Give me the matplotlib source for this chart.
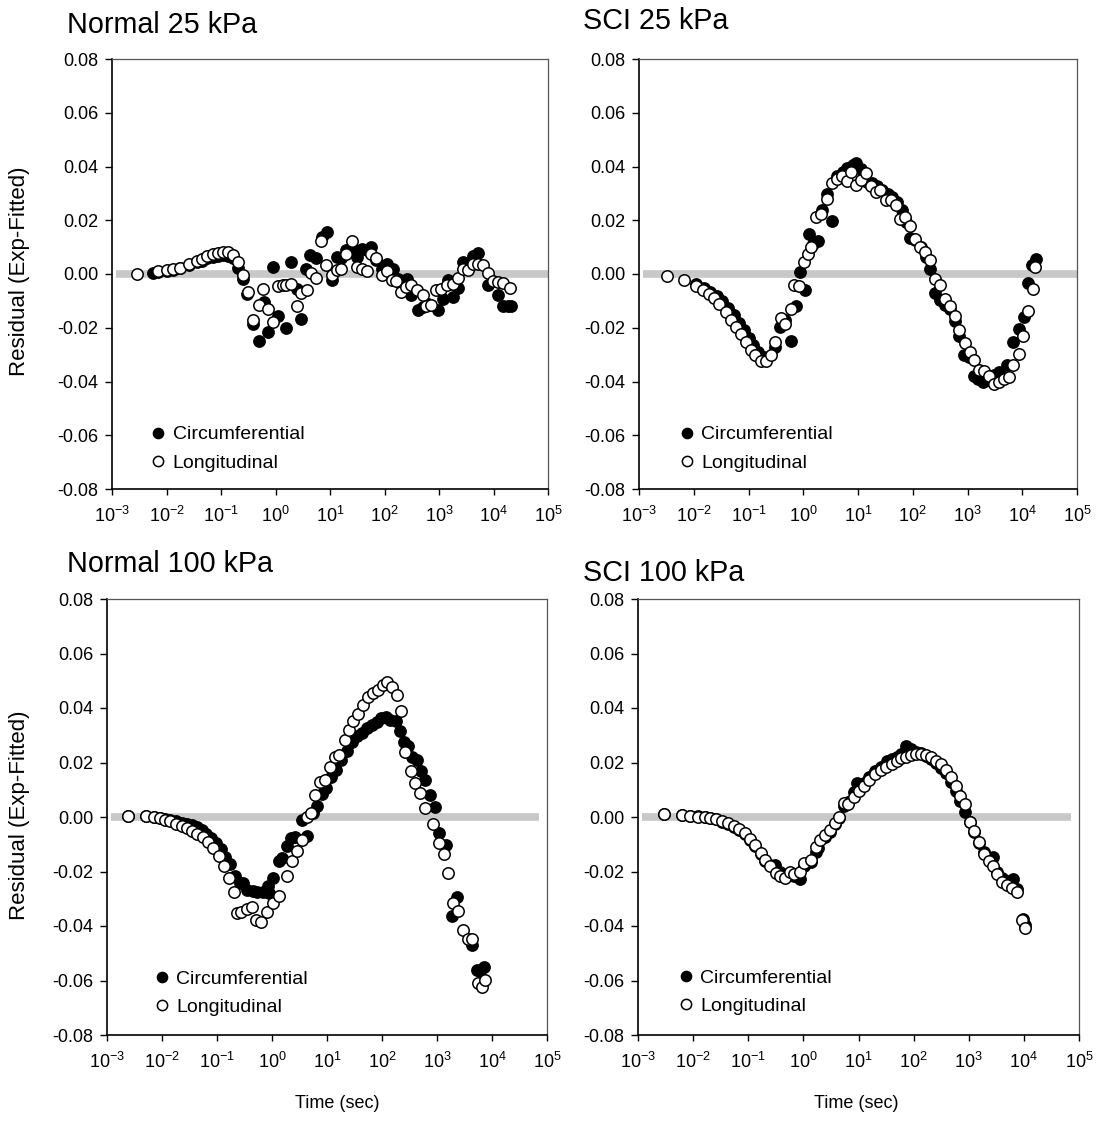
import numpy as np
import matplotlib
matplotlib.use("Agg")
import matplotlib.pyplot as plt
from matplotlib.ticker import NullLocator

plt.rcParams['font.family'] = ['Liberation Sans', 'DejaVu Sans']
plt.rcParams['mathtext.fontset'] = 'custom'
plt.rcParams['mathtext.rm'] = 'Liberation Sans'

# ---------------- data (time given as log10 of seconds) ----------------
n25_circ_logt = [-2.24, -2.16, -2.00, -1.88, -1.75, -1.58, -1.44, -1.35, -1.25, -1.14, -1.05, -0.97, -0.88, -0.78, -0.69,
                 -0.59, -0.52, -0.42, -0.31, -0.22, -0.13, -0.05, 0.05, 0.19, 0.28, 0.39, 0.47, 0.56, 0.64, 0.74,
                 0.85, 0.94, 1.03, 1.12, 1.21, 1.30, 1.40, 1.49, 1.58, 1.67, 1.76, 1.85, 1.95, 2.04, 2.15,
                 2.25, 2.31, 2.41, 2.49, 2.62, 2.71, 2.80, 2.98, 3.07, 3.17, 3.26, 3.35, 3.44, 3.53, 3.62,
                 3.72, 3.90, 4.08, 4.17, 4.27, 4.33]
n25_circ_res = [0.0004, 0.0008, 0.0012, 0.0015, 0.0021, 0.0033, 0.0043, 0.0050, 0.0058, 0.0064, 0.0068, 0.0070, 0.0068, 0.0058, 0.0024,
                -0.0017, -0.0076, -0.0185, -0.0250, -0.0104, -0.0216, 0.0026, -0.0158, -0.0200, 0.0045, -0.0055, -0.0166, 0.0020, 0.0070, 0.0061,
                0.0138, 0.0156, -0.0024, 0.0063, 0.0061, 0.0088, 0.0101, 0.0063, 0.0092, 0.0088, 0.0101, 0.0051, 0.0020, 0.0038, 0.0020,
                -0.0017, -0.0036, -0.0017, -0.0077, -0.0133, -0.0123, -0.0113, -0.0133, -0.0092, -0.0021, -0.0086, -0.0051, 0.0045, 0.0020, 0.0067,
                0.0079, -0.0042, -0.0079, -0.0120, -0.0120, -0.0120]
n25_long_logt = [-2.54, -2.16, -2.00, -1.88, -1.75, -1.58, -1.44, -1.35, -1.25, -1.14, -1.05, -0.97, -0.88, -0.78, -0.69,
                 -0.60, -0.50, -0.42, -0.31, -0.23, -0.13, -0.05, 0.04, 0.13, 0.19, 0.28, 0.39, 0.47, 0.57, 0.66,
                 0.74, 0.83, 0.93, 1.03, 1.12, 1.21, 1.30, 1.40, 1.49, 1.58, 1.67, 1.76, 1.85, 1.95, 2.04,
                 2.13, 2.22, 2.31, 2.40, 2.49, 2.59, 2.70, 2.77, 2.86, 2.95, 3.04, 3.14, 3.25, 3.35, 3.44,
                 3.53, 3.62, 3.72, 3.81, 3.90, 3.99, 4.08, 4.17, 4.30]
n25_long_res = [0.0000, 0.0010, 0.0014, 0.0017, 0.0024, 0.0037, 0.0048, 0.0056, 0.0066, 0.0073, 0.0079, 0.0082, 0.0081, 0.0070, 0.0043,
                -0.0002, -0.0068, -0.0173, -0.0117, -0.0055, -0.0129, -0.0179, -0.0046, -0.0042, -0.0042, -0.0036, -0.0120, -0.0071, -0.0061, 0.0004,
                -0.0015, 0.0123, 0.0032, -0.0005, 0.0014, 0.0017, 0.0076, 0.0123, 0.0026, 0.0020, 0.0011, 0.0076, 0.0060, -0.0005, 0.0010,
                -0.0021, -0.0027, -0.0067, -0.0048, -0.0042, -0.0061, -0.0077, -0.0120, -0.0117, -0.0061, -0.0055, -0.0042, -0.0036, -0.0015, 0.0017,
                0.0014, 0.0038, 0.0038, 0.0035, 0.0004, -0.0026, -0.0030, -0.0034, -0.0051]

s25_circ_logt = [-1.96, -1.82, -1.70, -1.58, -1.49, -1.38, -1.27, -1.17, -1.08, -1.00, -0.91, -0.82, -0.72, -0.51, -0.42,
                 -0.33, -0.23, -0.14, -0.06, 0.04, 0.11, 0.18, 0.27, 0.35, 0.44, 0.53, 0.62, 0.72, 0.80, 0.90,
                 0.97, 1.06, 1.17, 1.26, 1.35, 1.44, 1.54, 1.63, 1.72, 1.80, 1.88, 1.95, 2.05, 2.15, 2.24,
                 2.32, 2.40, 2.49, 2.59, 2.68, 2.77, 2.85, 2.94, 3.03, 3.11, 3.20, 3.29, 3.37, 3.48, 3.57,
                 3.73, 3.84, 3.94, 4.03, 4.10, 4.17, 4.25]
s25_circ_res = [-0.0036, -0.0051, -0.0067, -0.0083, -0.0101, -0.0125, -0.0154, -0.0183, -0.0210, -0.0237, -0.0266, -0.0291, -0.0309, -0.0270, -0.0197,
                -0.0173, -0.0251, -0.0119, 0.0007, -0.0058, 0.0150, 0.0113, 0.0123, 0.0240, 0.0297, 0.0197, 0.0364, 0.0380, 0.0396, 0.0405,
                0.0414, 0.0392, 0.0343, 0.0337, 0.0327, 0.0314, 0.0299, 0.0287, 0.0268, 0.0237, 0.0194, 0.0135, 0.0125, 0.0101, 0.0063,
                0.0020, -0.0071, -0.0096, -0.0117, -0.0129, -0.0175, -0.0232, -0.0303, -0.0307, -0.0378, -0.0390, -0.0402, -0.0394, -0.0374, -0.0363,
                -0.0340, -0.0253, -0.0204, -0.0160, -0.0032, 0.0032, 0.0057]
s25_long_logt = [-2.49, -2.17, -1.96, -1.83, -1.73, -1.63, -1.53, -1.42, -1.32, -1.23, -1.14, -1.05, -0.95, -0.88, -0.78,
                 -0.68, -0.59, -0.51, -0.41, -0.33, -0.23, -0.17, -0.07, 0.01, 0.09, 0.15, 0.24, 0.33, 0.44, 0.52,
                 0.61, 0.70, 0.79, 0.88, 0.97, 1.06, 1.15, 1.23, 1.32, 1.41, 1.51, 1.60, 1.69, 1.77, 1.86,
                 1.95, 2.04, 2.13, 2.22, 2.32, 2.40, 2.49, 2.59, 2.68, 2.77, 2.85, 2.95, 3.04, 3.12, 3.21,
                 3.31, 3.40, 3.48, 3.57, 3.66, 3.75, 3.84, 3.94, 4.02, 4.11, 4.19, 4.24]
s25_long_res = [-0.0009, -0.0024, -0.0045, -0.0058, -0.0073, -0.0088, -0.0113, -0.0142, -0.0170, -0.0197, -0.0225, -0.0253, -0.0284, -0.0303, -0.0324,
                -0.0324, -0.0303, -0.0253, -0.0163, -0.0185, -0.0129, -0.0040, -0.0043, 0.0045, 0.0076, 0.0101, 0.0212, 0.0225, 0.0278, 0.0340,
                0.0355, 0.0365, 0.0347, 0.0378, 0.0333, 0.0351, 0.0376, 0.0327, 0.0306, 0.0314, 0.0277, 0.0274, 0.0256, 0.0206, 0.0212,
                0.0178, 0.0132, 0.0101, 0.0082, 0.0053, -0.0017, -0.0042, -0.0092, -0.0120, -0.0158, -0.0210, -0.0257, -0.0291, -0.0319, -0.0356,
                -0.0361, -0.0378, -0.0409, -0.0400, -0.0390, -0.0384, -0.0337, -0.0297, -0.0229, -0.0138, -0.0057, 0.0026]

n100_circ_logt = [-2.61, -2.30, -2.14, -2.04, -1.94, -1.85, -1.74, -1.64, -1.55, -1.46, -1.37, -1.28, -1.20, -1.11, -1.02,
                  -0.93, -0.85, -0.76, -0.68, -0.59, -0.52, -0.46, -0.35, -0.27, -0.16, -0.08, -0.05, 0.02, 0.12, 0.19,
                  0.27, 0.35, 0.42, 0.54, 0.63, 0.75, 0.81, 0.90, 0.99, 1.08, 1.17, 1.26, 1.36, 1.45, 1.54,
                  1.63, 1.72, 1.81, 1.90, 1.99, 2.07, 2.15, 2.25, 2.32, 2.40, 2.47, 2.55, 2.63, 2.70, 2.78,
                  2.87, 2.96, 3.04, 3.16, 3.28, 3.36, 3.64, 3.73, 3.78, 3.85]
n100_circ_res = [0.0005, 0.0002, 0.0000, -0.0003, -0.0007, -0.0011, -0.0016, -0.0021, -0.0025, -0.0028, -0.0038, -0.0049, -0.0061, -0.0077, -0.0096,
                 -0.0118, -0.0145, -0.0172, -0.0218, -0.0243, -0.0243, -0.0267, -0.0270, -0.0274, -0.0277, -0.0255, -0.0280, -0.0225, -0.0163, -0.0151,
                 -0.0108, -0.0077, -0.0074, -0.0010, -0.0071, 0.0015, 0.0040, 0.0085, 0.0106, 0.0148, 0.0173, 0.0210, 0.0244, 0.0277, 0.0296,
                 0.0310, 0.0326, 0.0339, 0.0347, 0.0363, 0.0367, 0.0357, 0.0351, 0.0314, 0.0277, 0.0261, 0.0222, 0.0210, 0.0167, 0.0136,
                 0.0081, 0.0036, -0.0059, -0.0102, -0.0363, -0.0294, -0.0469, -0.0560, -0.0565, -0.0550]
n100_long_logt = [-2.61, -2.30, -2.14, -2.04, -1.94, -1.85, -1.74, -1.64, -1.55, -1.46, -1.37, -1.26, -1.17, -1.08, -0.97,
                  -0.88, -0.79, -0.70, -0.64, -0.57, -0.46, -0.37, -0.29, -0.20, -0.10, 0.01, 0.12, 0.28, 0.37, 0.46,
                  0.55, 0.63, 0.70, 0.78, 0.87, 0.96, 1.05, 1.14, 1.22, 1.33, 1.40, 1.48, 1.57, 1.66, 1.75,
                  1.84, 1.93, 2.01, 2.09, 2.19, 2.28, 2.35, 2.41, 2.52, 2.60, 2.69, 2.78, 2.93, 3.04, 3.13,
                  3.20, 3.29, 3.38, 3.47, 3.56, 3.64, 3.75, 3.82, 3.87]
n100_long_res = [0.0005, 0.0002, 0.0000, -0.0004, -0.0010, -0.0016, -0.0025, -0.0032, -0.0040, -0.0050, -0.0061, -0.0074, -0.0090, -0.0114, -0.0142,
                 -0.0179, -0.0225, -0.0277, -0.0351, -0.0347, -0.0339, -0.0329, -0.0378, -0.0387, -0.0347, -0.0314, -0.0290, -0.0218, -0.0160, -0.0126,
                 -0.0083, 0.0000, 0.0015, 0.0081, 0.0130, 0.0134, 0.0185, 0.0220, 0.0228, 0.0283, 0.0318, 0.0351, 0.0379, 0.0410, 0.0440,
                 0.0455, 0.0467, 0.0486, 0.0496, 0.0476, 0.0449, 0.0388, 0.0240, 0.0167, 0.0126, 0.0087, 0.0032, -0.0025, -0.0096, -0.0135,
                 -0.0204, -0.0314, -0.0344, -0.0414, -0.0449, -0.0449, -0.0611, -0.0623, -0.0599]

s100_circ_logt = [-2.52, -2.21, -2.05, -1.91, -1.79, -1.69, -1.58, -1.47, -1.37, -1.26, -1.17, -1.06, -0.96, -0.87, -0.77,
                  -0.69, -0.60, -0.52, -0.43, -0.34, -0.25, -0.17, -0.07, 0.02, 0.13, 0.22, 0.27, 0.39, 0.48, 0.57,
                  0.65, 0.73, 0.81, 0.92, 0.97, 1.10, 1.19, 1.30, 1.40, 1.51, 1.60, 1.69, 1.78, 1.86, 1.96,
                  2.05, 2.14, 2.23, 2.32, 2.41, 2.49, 2.58, 2.67, 2.76, 2.84, 2.93, 3.02, 3.10, 3.18, 3.27,
                  3.37, 3.44, 3.52, 3.61, 3.70, 3.81, 3.87, 3.99, 4.02]
s100_circ_res = [0.0010, 0.0007, 0.0004, 0.0002, 0.0000, -0.0003, -0.0008, -0.0017, -0.0026, -0.0036, -0.0049, -0.0064, -0.0084, -0.0108, -0.0137,
                 -0.0160, -0.0175, -0.0177, -0.0200, -0.0213, -0.0207, -0.0218, -0.0226, -0.0180, -0.0165, -0.0130, -0.0115, -0.0075, -0.0055, -0.0025,
                 -0.0005, 0.0040, 0.0055, 0.0090, 0.0124, 0.0125, 0.0145, 0.0168, 0.0185, 0.0205, 0.0212, 0.0220, 0.0232, 0.0259, 0.0248,
                 0.0240, 0.0235, 0.0225, 0.0212, 0.0198, 0.0180, 0.0160, 0.0130, 0.0095, 0.0060, 0.0020, -0.0020, -0.0055, -0.0095, -0.0130,
                 -0.0150, -0.0146, -0.0200, -0.0225, -0.0235, -0.0226, -0.0265, -0.0373, -0.0395]
s100_long_logt = [-2.52, -2.21, -2.05, -1.91, -1.79, -1.69, -1.58, -1.47, -1.37, -1.26, -1.17, -1.06, -0.96, -0.87, -0.77,
                  -0.69, -0.60, -0.50, -0.43, -0.34, -0.25, -0.17, -0.07, 0.02, 0.13, 0.22, 0.30, 0.39, 0.48, 0.57,
                  0.65, 0.73, 0.81, 0.92, 1.01, 1.10, 1.19, 1.30, 1.40, 1.49, 1.60, 1.69, 1.78, 1.87, 1.96,
                  2.05, 2.14, 2.23, 2.32, 2.41, 2.49, 2.58, 2.67, 2.76, 2.84, 2.93, 3.02, 3.10, 3.18, 3.27,
                  3.36, 3.44, 3.52, 3.61, 3.70, 3.78, 3.87, 3.96, 4.02]
s100_long_res = [0.0010, 0.0007, 0.0004, 0.0001, 0.0000, -0.0002, -0.0007, -0.0015, -0.0023, -0.0032, -0.0045, -0.0060, -0.0079, -0.0103, -0.0131,
                 -0.0158, -0.0179, -0.0207, -0.0217, -0.0223, -0.0201, -0.0210, -0.0201, -0.0168, -0.0158, -0.0109, -0.0085, -0.0066, -0.0048, -0.0021,
                 0.0001, 0.0050, 0.0048, 0.0072, 0.0097, 0.0115, 0.0136, 0.0157, 0.0173, 0.0185, 0.0195, 0.0204, 0.0216, 0.0222, 0.0228,
                 0.0231, 0.0232, 0.0228, 0.0220, 0.0207, 0.0194, 0.0173, 0.0146, 0.0112, 0.0077, 0.0047, -0.0017, -0.0050, -0.0091, -0.0136,
                 -0.0160, -0.0178, -0.0211, -0.0238, -0.0248, -0.0260, -0.0275, -0.0379, -0.0406]

titles = ["Normal 25 kPa", "SCI 25 kPa", "Normal 100 kPa", "SCI 100 kPa"]
series_labels = ["Circumferential", "Longitudinal"]
x_exponents = list(range(-3, 6))
y_ticks = [-0.08, -0.06, -0.04, -0.02, 0.00, 0.02, 0.04, 0.06, 0.08]
y_label = "Residual (Exp-Fitted)"
x_label = "Time (sec)"

# ---------------- layout ----------------
W, H = 1103, 1126
fig = plt.figure(figsize=(W / 100, H / 100), dpi=100)
fig.patch.set_facecolor('white')


def box(l, r, t, b):
    return [l / W, 1 - b / H, (r - l) / W, (b - t) / H]


panels = [
    dict(rect=box(112, 548, 59, 489), circ=(n25_circ_logt, n25_circ_res), long=(n25_long_logt, n25_long_res),
         zx=(0.009, 1.0), leg=(0.088, 0.040), title=(67, 33)),
    dict(rect=box(639, 1077, 59, 489), circ=(s25_circ_logt, s25_circ_res), long=(s25_long_logt, s25_long_res),
         zx=(0.009, 1.0), leg=(0.091, 0.040), title=(583, 29)),
    dict(rect=box(107, 547, 599, 1035), circ=(n100_circ_logt, n100_circ_res), long=(n100_long_logt, n100_long_res),
         zx=(0.009, 0.981), leg=(0.107, 0.044), title=(67, 572)),
    dict(rect=box(638, 1079, 599, 1035), circ=(s100_circ_logt, s100_circ_res), long=(s100_long_logt, s100_long_res),
         zx=(0.009, 0.981), leg=(0.091, 0.046), title=(583, 581)),
]

for i, p in enumerate(panels):
    ax = fig.add_axes(p['rect'])
    ax.set_xscale('log')
    ax.axhline(0, xmin=p['zx'][0], xmax=p['zx'][1], color='#c8c8c8', lw=5.5,
               solid_capstyle='butt', zorder=1)
    ct, cr = p['circ']
    lt, lr = p['long']
    ax.plot(10 ** np.array(ct), cr, 'o', ls='none', ms=8.2, mfc='black', mec='black',
            mew=1.0, label=series_labels[0], zorder=2)
    ax.plot(10 ** np.array(lt), lr, 'o', ls='none', ms=8.2, mfc='white', mec='black',
            mew=1.1, label=series_labels[1], zorder=3)
    ax.set_xlim(10.0 ** x_exponents[0], 10.0 ** x_exponents[-1])
    ax.set_ylim(y_ticks[0], y_ticks[-1])
    ax.set_xticks([10.0 ** k for k in x_exponents])
    ax.set_xticklabels([r'$\mathregular{10^{%d}}$' % k for k in x_exponents])
    ax.xaxis.set_minor_locator(NullLocator())
    ax.set_yticks(y_ticks)
    ax.set_yticklabels(['%.2f' % v if abs(v) > 1e-9 else '0.00' for v in y_ticks])
    ax.tick_params(axis='y', direction='out', length=5, width=1.0, labelsize=13, pad=5)
    ax.tick_params(axis='x', direction='out', length=4.5, width=1.0, labelsize=13, pad=8)
    for s in ['top', 'right']:
        ax.spines[s].set_color('#555555')
        ax.spines[s].set_linewidth(0.9)
    for s in ['left', 'bottom']:
        ax.spines[s].set_color('black')
        ax.spines[s].set_linewidth(1.2)
    ax.legend(loc='lower left', bbox_to_anchor=p['leg'], frameon=False, fontsize=14,
              handlelength=0.8, handletextpad=0.35, labelspacing=0.55, borderpad=0,
              borderaxespad=0, markerscale=0.9)
    fig.text(p['title'][0] / W, 1 - p['title'][1] / H, titles[i], fontsize=20.7,
             ha='left', va='baseline')

fig.text(20 / W, 1 - 271 / H, y_label, rotation=90, fontsize=16, ha='center', va='center')
fig.text(20 / W, 1 - 815 / H, y_label, rotation=90, fontsize=16, ha='center', va='center')
fig.text(337 / W, 1 - 1103 / H, x_label, fontsize=13, ha='center', va='center')
fig.text(856 / W, 1 - 1103 / H, x_label, fontsize=13, ha='center', va='center')

fig.savefig('out.png', dpi=100, facecolor='white')
